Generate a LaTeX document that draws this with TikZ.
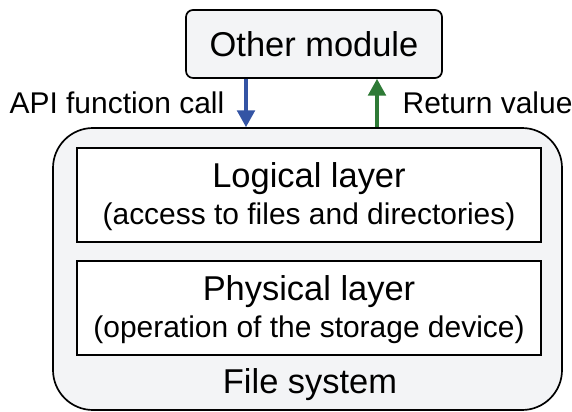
\documentclass[tikz,border=0pt]{standalone}
\usepackage{fontspec}
\setmainfont{Liberation Sans}
\usepackage{xcolor}
\definecolor{fsgray}{RGB}{243,244,246}
\definecolor{callblue}{RGB}{52,84,164}
\definecolor{retgreen}{RGB}{46,122,54}
\usetikzlibrary{arrows.meta, positioning}

\tikzset{
  modbox/.style={draw, line width=1.2pt, fill=fsgray, rounded corners=5pt,
    minimum width=6.4cm, minimum height=1.7cm, font=\fontsize{24.5}{29}\selectfont},
  fsbox/.style={draw, line width=1.2pt, fill=fsgray, rounded corners=1cm,
    minimum width=12.725cm, minimum height=7.05cm},
  layerbox/.style={draw, line width=1.2pt, fill=white,
    minimum width=11.6cm, minimum height=2.35cm},
  bigtxt/.style={font=\fontsize{24.5}{29}\selectfont, inner sep=0pt},
  smalltxt/.style={font=\fontsize{21.3}{25}\selectfont, inner sep=0pt},
  flowarrow/.style={line width=2.4pt, -{Triangle[length=0.42cm,width=0.44cm]}}
}

\begin{document}
\begin{tikzpicture}
  \useasboundingbox (0,0) rectangle (14.3,10.275);

  % --- Other module and file system ---
  \node[modbox] (other) at (7.85,9.175) {Other module};
  \node[fsbox] (fs) at (7.6875,3.55) {};
  \node[bigtxt] (fslabel) at (7.75,0.65) {File system};

  % --- Layers ---
  \node[layerbox] (logical) at (7.725,5.4) {};
  \node[bigtxt] (logtitle) at ([yshift=0.42cm]logical.center) {Logical layer};
  \node[smalltxt] (logsub) at ([yshift=-0.55cm]logical.center) {(access to files and directories)};

  \node[layerbox] (physical) at (7.725,2.575) {};
  \node[bigtxt] (phytitle) at ([yshift=0.42cm]physical.center) {Physical layer};
  \node[smalltxt] (physub) at ([yshift=-0.55cm]physical.center) {(operation of the storage device)};

  % --- Call and return ---
  \coordinate (callx) at (6.15,0);
  \coordinate (retx) at (9.425,0);
  \draw[flowarrow, callblue] (other.south -| callx) -- (fs.north -| callx)
    node[midway, left=0.5cm, black, smalltxt] (calllabel) {API function call};
  \draw[flowarrow, retgreen] (fs.north -| retx) -- (other.south -| retx)
    node[midway, right=0.6cm, black, smalltxt] (retlabel) {Return value};
\end{tikzpicture}
\end{document}
